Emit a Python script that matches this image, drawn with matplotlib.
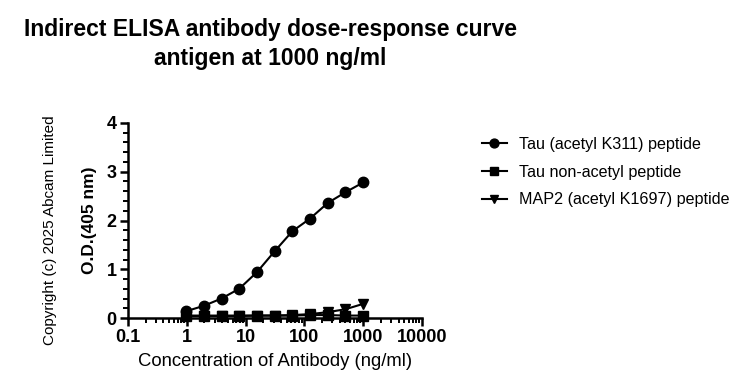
import matplotlib
matplotlib.use("Agg")
import matplotlib.pyplot as plt
import numpy as np
from matplotlib.ticker import LogLocator, NullFormatter, FixedLocator, MultipleLocator

plt.rcParams['font.family'] = ['Liberation Sans', 'DejaVu Sans']

conc = [0.98, 1.95, 3.9, 7.8, 15.6, 31.25, 62.5, 125, 250, 500, 1000]
tau_acetyl = [0.14, 0.25, 0.40, 0.60, 0.94, 1.37, 1.78, 2.04, 2.36, 2.58, 2.78]
tau_non = [0.05, 0.05, 0.05, 0.05, 0.05, 0.05, 0.05, 0.06, 0.06, 0.05, 0.05]
map2 = [0.04, 0.04, 0.04, 0.04, 0.05, 0.05, 0.06, 0.08, 0.12, 0.18, 0.29]
labels = ["Tau (acetyl K311) peptide", "Tau non-acetyl peptide", "MAP2 (acetyl K1697) peptide"]
xticks = [0.1, 1, 10, 100, 1000, 10000]
xticklabels = ["0.1", "1", "10", "100", "1000", "10000"]
yticks = [0, 1, 2, 3, 4]

fig = plt.figure(figsize=(7.51, 3.88), dpi=100)
ax = fig.add_axes([0.1704, 0.1804, 0.3915, 0.5026])

l1, = ax.plot(conc, tau_acetyl, '-o', color='black', lw=1.5, ms=7.5, clip_on=False, zorder=5)
l2, = ax.plot(conc, tau_non, '-s', color='black', lw=1.5, ms=7, clip_on=False, zorder=4)
l3, = ax.plot(conc, map2, '-v', color='black', lw=1.5, ms=7.5, clip_on=False, zorder=3)

ax.set_xscale('log')
ax.set_xlim(0.1, 10000)
ax.set_ylim(0, 4)
ax.xaxis.set_major_locator(FixedLocator(xticks))
ax.set_xticklabels(xticklabels)
ax.xaxis.set_minor_locator(LogLocator(base=10, subs=np.arange(2, 10), numticks=20))
ax.xaxis.set_minor_formatter(NullFormatter())
ax.yaxis.set_major_locator(FixedLocator(yticks))
ax.yaxis.set_minor_locator(MultipleLocator(0.2))

for s in ['top', 'right']:
    ax.spines[s].set_visible(False)
for s in ['left', 'bottom']:
    ax.spines[s].set_linewidth(1.8)

ax.tick_params(axis='both', which='major', width=1.8, length=6, labelsize=13, direction='out', pad=2)
ax.tick_params(axis='both', which='minor', width=1.4, length=3.5)
for t in ax.get_xticklabels() + ax.get_yticklabels():
    t.set_fontweight('bold')

ax.set_xlabel("Concentration of Antibody (ng/ml)", fontsize=13.3, labelpad=5)
ax.set_ylabel("O.D.(405 nm)", fontsize=12.5, fontweight='bold', labelpad=7)

fig.text(0.36, 0.887, "Indirect ELISA antibody dose-response curve\nantigen at 1000 ng/ml",
         ha='center', va='center', fontsize=16.5, fontweight='bold', linespacing=1.3)
fig.text(0.067, 0.407, "Copyright (c) 2025 Abcam Limited", rotation=90,
         ha='center', va='center', fontsize=11)

fig.legend([l1, l2, l3], labels, loc='upper left', bbox_to_anchor=(0.623, 0.685),
           frameon=False, fontsize=11.6, handlelength=1.5, handletextpad=0.8,
           labelspacing=0.8, markerscale=0.85)

fig.savefig("out.png", dpi=100)
